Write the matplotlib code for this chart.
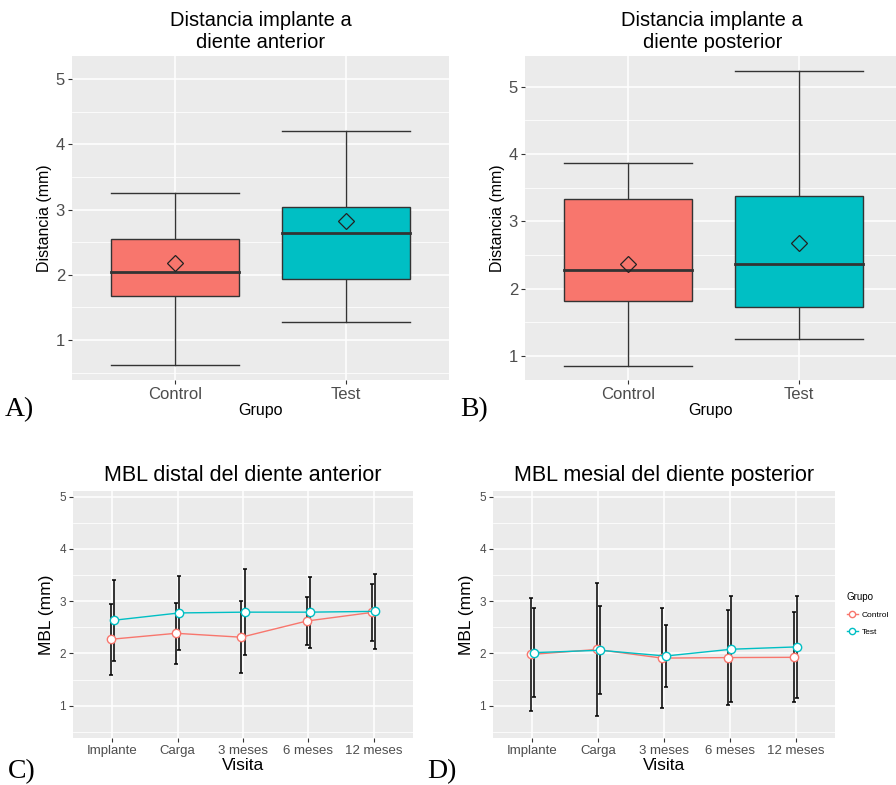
import numpy as np
import matplotlib.pyplot as plt
from matplotlib.lines import Line2D
from matplotlib.ticker import MultipleLocator

plt.rcParams['font.family'] = ['Liberation Sans', 'DejaVu Sans']

CTRL = '#F8766D'
TEST = '#00BFC4'
PANEL = '#EBEBEB'

grupos = ['Control', 'Test']
visitas = ['Implante', 'Carga', '3 meses', '6 meses', '12 meses']

# boxplot stats: whisker low, Q1, median, Q3, whisker high, mean
ant_ctrl = [0.61, 1.67, 2.05, 2.55, 3.26, 2.18]
ant_test = [1.28, 1.935, 2.645, 3.04, 4.20, 2.825]
post_ctrl = [0.85, 1.81, 2.27, 3.33, 3.87, 2.37]
post_test = [1.25, 1.72, 2.36, 3.37, 5.23, 2.67]

# MBL means and error bar half widths
mbl_dist_ctrl = [2.27, 2.385, 2.31, 2.62, 2.785]
mbl_dist_ctrl_err = [0.68, 0.585, 0.685, 0.455, 0.545]
mbl_dist_test = [2.635, 2.775, 2.79, 2.79, 2.805]
mbl_dist_test_err = [0.775, 0.705, 0.82, 0.68, 0.715]

mbl_mes_ctrl = [1.98, 2.075, 1.91, 1.92, 1.925]
mbl_mes_ctrl_err = [1.08, 1.265, 0.96, 0.91, 0.865]
mbl_mes_test = [2.015, 2.06, 1.95, 2.08, 2.125]
mbl_mes_test_err = [0.845, 0.845, 0.59, 1.02, 0.975]


def gg_axes(ax):
    ax.set_facecolor(PANEL)
    for s in ax.spines.values():
        s.set_visible(False)
    ax.yaxis.set_minor_locator(MultipleLocator(0.5))
    ax.grid(which='major', color='white', lw=1.1)
    ax.grid(which='minor', axis='y', color='white', lw=0.55)
    ax.set_axisbelow(True)
    ax.tick_params(which='minor', length=0)
    ax.tick_params(which='major', length=3, color='#333333', labelcolor='#4D4D4D', pad=2)


def boxplot(ax, stats, colors, title):
    gg_axes(ax)
    for i, (st, c) in enumerate(zip(stats, colors)):
        x = i + 1
        lo, q1, med, q3, hi, mean = st
        w = 0.375
        ax.plot([x, x], [lo, q1], color='#333333', lw=1.0, zorder=2)
        ax.plot([x, x], [q3, hi], color='#333333', lw=1.0, zorder=2)
        ax.plot([x - w, x + w], [lo, lo], color='#333333', lw=1.0, zorder=2)
        ax.plot([x - w, x + w], [hi, hi], color='#333333', lw=1.0, zorder=2)
        ax.add_patch(plt.Rectangle((x - w, q1), 2 * w, q3 - q1, facecolor=c,
                                   edgecolor='#333333', lw=1.0, zorder=3))
        ax.plot([x - w, x + w], [med, med], color='#333333', lw=2.0, zorder=4)
        ax.plot(x, mean, marker='D', ms=8, mfc='none', mec='#222222', mew=0.9, zorder=5)
    ax.set_xticks([1, 2])
    ax.set_xticklabels(grupos, fontsize=12)
    ax.tick_params(axis='y', labelsize=12)
    ax.set_xlabel('Grupo', fontsize=11.5, labelpad=1)
    ax.set_ylabel('Distancia (mm)', fontsize=11.5, labelpad=3)
    ax.set_title(title, fontsize=14.5, pad=6, linespacing=1.15)


def mbl(ax, mc, ec, mt, et, title):
    gg_axes(ax)
    x = np.arange(1, 6)
    d = 0.025
    ax.errorbar(x - d, mc, yerr=ec, fmt='none', ecolor='black', elinewidth=1.1,
                capsize=1.2, capthick=1.1, zorder=2)
    ax.errorbar(x + d, mt, yerr=et, fmt='none', ecolor='black', elinewidth=1.1,
                capsize=1.2, capthick=1.1, zorder=2)
    ax.plot(x - d, mc, color=CTRL, lw=1.0, marker='o', ms=6, mfc='white', mec=CTRL,
            mew=1.0, zorder=3)
    ax.plot(x + d, mt, color=TEST, lw=1.0, marker='o', ms=6, mfc='white', mec=TEST,
            mew=1.0, zorder=4)
    ax.set_xlim(0.4, 5.6)
    ax.set_ylim(0.38, 5.11)
    ax.set_yticks([1, 2, 3, 4, 5])
    ax.set_xticks(x)
    ax.set_xticklabels(visitas, fontsize=9.5)
    ax.tick_params(axis='y', labelsize=8.5)
    ax.set_xlabel('Visita', fontsize=12.5, labelpad=1)
    ax.set_ylabel('MBL (mm)', fontsize=12.5, labelpad=4)
    ax.set_title(title, fontsize=15.5, pad=7)


fig = plt.figure(figsize=(8.96, 7.85), dpi=100)

axA = fig.add_axes([72 / 896, 1 - 380 / 785, 377 / 896, 324 / 785])
boxplot(axA, [ant_ctrl, ant_test], [CTRL, TEST], 'Distancia implante a\ndiente anterior')
axA.set_xlim(0.4, 2.6)
axA.set_ylim(0.387, 5.357)

axB = fig.add_axes([525 / 896, 1 - 380 / 785, 371 / 896, 324 / 785])
boxplot(axB, [post_ctrl, post_test], [CTRL, TEST], 'Distancia implante a\ndiente posterior')
axB.set_xlim(0.4, 2.565)
axB.set_ylim(0.64, 5.456)
axB.title.set_position((0.505, 1))

axC = fig.add_axes([73 / 896, 1 - 738 / 785, 340 / 896, 247 / 785])
mbl(axC, mbl_dist_ctrl, mbl_dist_ctrl_err, mbl_dist_test, mbl_dist_test_err,
    'MBL distal del diente anterior')

axD = fig.add_axes([493 / 896, 1 - 738 / 785, 342 / 896, 247 / 785])
mbl(axD, mbl_mes_ctrl, mbl_mes_ctrl_err, mbl_mes_test, mbl_mes_test_err,
    'MBL mesial del diente posterior')

handles = [Line2D([0], [0], color=CTRL, lw=1.0, marker='o', ms=4.5, mfc='white', mec=CTRL),
           Line2D([0], [0], color=TEST, lw=1.0, marker='o', ms=4.5, mfc='white', mec=TEST)]
leg = fig.legend(handles, grupos, loc='upper left', bbox_to_anchor=(846 / 896, 1 - 591 / 785),
                 frameon=False, fontsize=6, title='Grupo', title_fontsize=7,
                 handlelength=1.3, handletextpad=0.5, labelspacing=1.1, borderpad=0.1,
                 borderaxespad=0)
leg._legend_box.align = 'left'

for lab, x, y in [('A)', 5, 410), ('B)', 460, 410), ('C)', 8, 772), ('D)', 427, 772)]:
    fig.text(x / 896, 1 - y / 785, lab, family='Liberation Serif', fontsize=20,
             ha='left', va='center')

fig.savefig('out.png', dpi=100)
